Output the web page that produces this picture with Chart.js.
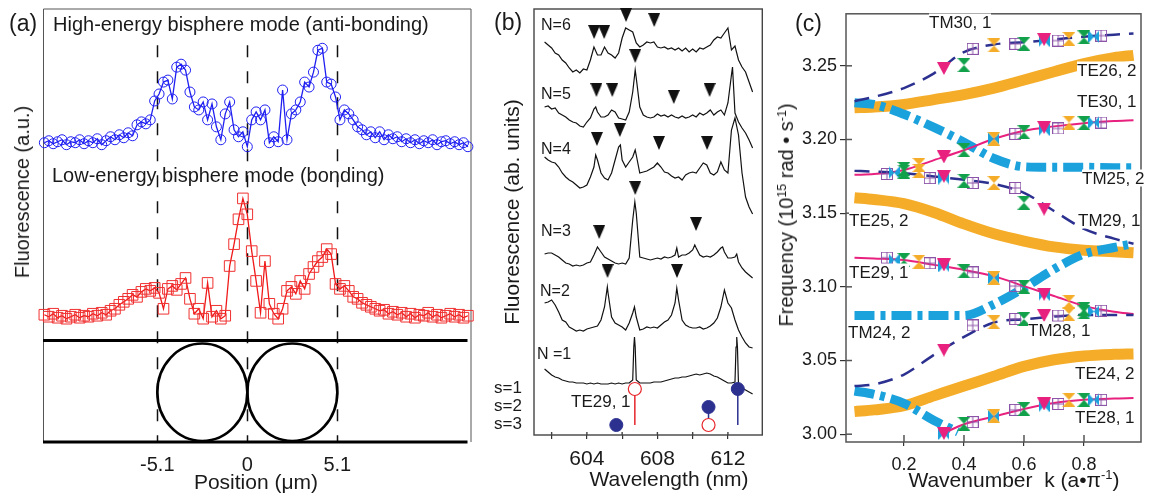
<!DOCTYPE html>
<html>
<head>
<meta charset="utf-8">
<script src="https://cdn.jsdelivr.net/npm/chart.js@4.4.1/dist/chart.umd.min.js"></script>
<style>
  body { margin: 0; background: #fff; }
  #fig { position: relative; width: 1151px; height: 494px; overflow: hidden;
         font-family: 'Liberation Sans', Arial, Helvetica, sans-serif; color: #1a1a1a; }
  #fig canvas { position: absolute; top: 0; }
  .lbl { position: absolute; white-space: nowrap; line-height: 1; transform: translateY(-50%); }
  .lbl.ctr { transform: translate(-50%, -50%); }
  .lbl.rot { transform: translate(-50%, -50%) rotate(-90deg); }
  .lbl.bg { background: #fff; }
  sup { font-size: 62%; vertical-align: 0.55em; line-height: 0; }
</style>
</head>
<body>
<div id="fig">
  <canvas id="chartA" width="480" height="494" style="left:0"></canvas>
  <canvas id="chartB" width="290" height="494" style="left:480px"></canvas>
  <canvas id="chartC" width="381" height="494" style="left:770px"></canvas>
</div>
<script>
// ---------- panel (a): fluorescence line scans ----------
const positions = [-11.5,-11.25,-11,-10.75,-10.5,-10.25,-10,-9.75,-9.5,-9.25,-9,-8.75,-8.5,-8.25,-8,-7.75,-7.5,-7.25,-7,-6.75,
  -6.5,-6.25,-6,-5.75,-5.5,-5.25,-5,-4.75,-4.5,-4.25,-4,-3.75,-3.5,-3.25,-3,-2.75,-2.5,-2.25,-2,-1.75,
  -1.5,-1.25,-1,-0.75,-0.5,-0.25,0,0.25,0.5,0.75,1,1.25,1.5,1.75,2,2.25,2.5,2.75,3,3.25,
  3.5,3.75,4,4.25,4.5,4.75,5,5.25,5.5,5.75,6,6.25,6.5,6.75,7,7.25,7.5,7.75,8,8.25,
  8.5,8.75,9,9.25,9.5,9.75,10,10.25,10.5,10.75,11,11.25,11.5,11.75,12,12.25,12.5];
const blueTrace = [2,4,1,3,5,0,3,2,5,1, 4,2,6,0,4,8,5,10,7,12, 9,20,23,21,25,44,51,63,65,46,
  78,81,75,53,38,35,43,25,41,18, 5,31,43,15,8,13,-2,25,33,25, 35,2,8,3,55,5,31,35,43,63,
  58,73,95,97,63,61,48,25,35,31, 25,18,15,10,13,7,13,5,10,6, 8,3,6,2,5,1,4,2,5,0, 3,4,1,3,0,2,-2];
const redTrace = [4,2,5,1,3,0,2,4,1,3, 2,5,3,6,4,8,10,14,17,20, 24,22,27,30,28,31,26,10,30,33,
  29,35,41,20,5,10,0,36,2,8, 0,3,53,75,100,121,105,68,38,6, 58,15,5,0,10,28,32,25,38,30,
  45,52,58,62,70,65,35,30,33,28, 22,20,16,14,12,10,8,9,5,7, 4,6,2,5,1,4,3,6,2,4, 1,3,5,2,4,1,3];
const blueOffset = 299;
const redOffset = 124;
const posTicks = [-5.1, 0, 5.1];
const sphereCenters = [-2.55, 2.55];
const sphereDiameter = 5.1;

// ---------- panel (b): spectra ----------
const wavelengths = [601.6,601.8,602.0,602.2,602.4,602.6,602.8,603.0,603.2,603.4,
  603.6,603.8,604.0,604.2,604.4,604.6,604.8,605.0,605.2,605.4,
  605.6,605.8,606.0,606.2,606.4,606.6,606.8,607.0,607.2,607.4,
  607.6,607.8,608.0,608.2,608.4,608.6,608.8,609.0,609.2,609.4,
  609.6,609.8,610.0,610.2,610.4,610.6,610.8,611.0,611.2,611.4,
  611.6,611.8,612.0,612.2,612.4,612.6,612.8,613.0,613.2,613.4];
const specN6 = [393,390,387,382,380,375,372,367,363,365, 362,366,365,375,388,380,380,388,382,380,
  377,382,397,407,405,403,392,388,390,393, 392,393,388,387,388,386,387,385,387,384,
  387,383,386,383,387,386,388,390,395,398, 397,402,407,385,389,375,368,363,353,343];
const specN5 = [328,329,326,327,322,320,318,315,313,312, 309,308,313,317,326,323,318,318,320,325,
  323,317,316,315,323,343,357,328,320,318, 317,318,321,319,320,318,320,318,317,319,
  317,318,320,318,322,320,322,325,320,323, 325,320,332,360,322,313,307,302,295,287];
const specN4 = [278,275,273,272,268,262,258,255,253,250, 247,248,250,258,268,275,262,257,255,262,
  275,288,275,268,273,278,280,262,263,264, 266,268,272,268,263,262,259,257,258,255,
  260,262,263,262,267,272,270,262,260,263, 273,265,262,305,317,300,262,238,228,221];
const specN3 = [181,182,182,180,178,175,172,171,169,170, 169,170,172,173,180,188,183,178,176,174,
  172,171,172,171,177,215,222,178,177,176, 175,176,177,176,178,177,178,180,178,180,
  180,182,185,187,180,178,179,178,180,183, 187,183,177,177,178,173,167,163,160,157];
const specN2 = [132,133,135,130,123,115,113,108,106,104, 105,104,106,107,108,109,115,128,142,118,
  112,110,108,105,112,122,118,105,106,108, 107,108,107,110,113,115,120,132,135,115,
  110,108,107,107,108,106,107,109,112,117, 128,145,132,127,115,105,98,92,88,87];
const specN1 = [66,63,60,58,57,55,54,53,53,52, 52,52,51,52,51,52,51,51,51,52,
  51,52,51,52,52,55,55,52,52,52, 52,53,53,53,54,55,56,57,57,58,
  58,59,60,61,60,61,62,61,59,58, 56,54,52,52,53,50,47,45,43,41];
const peaksN5 = [[604.5, 328], [606.74, 365], [612.26, 368]];
const peaksN4 = [[604.5, 280], [605.9, 290], [606.74, 285]];
const peaksN3 = [[606.72, 233], [609.1, 187], [610.12, 190], [611.7, 188], [612.5, 181]];
const peaksN2 = [[605.16, 148], [606.7, 128], [609.1, 147]];
const peaksN1 = [[606.66, 88], [606.7, 98], [606.74, 88], [612.46, 88], [612.5, 98], [612.54, 88]];
const arrowsN6 = [[604.41, 403], [604.98, 403], [606.22, 420], [607.82, 415]];
const arrowsN5 = [[604.54, 345], [605.44, 345], [606.74, 379], [608.93, 338], [610.96, 345]];
const arrowsN4 = [[604.57, 296], [605.87, 305], [608.09, 292], [610.82, 292]];
const arrowsN3 = [[604.70, 203], [606.74, 247], [610.19, 211]];
const arrowsN2 = [[605.17, 164], [609.11, 164]];
const teModeWl = [606.72, 610.9];
const teModeS = [1, 3];
const tmModeWl = [612.56, 610.9, 605.67];
const tmModeS = [1, 2, 3];
const sLevels = [46, 28, 10];
const wlTicks = [602, 604, 606, 608, 610, 612];
const wlLabelled = [604, 608, 612];

// ---------- panel (c): dispersion ----------
const kGrid = [0.035, 0.1, 0.2, 0.3, 0.4, 0.5, 0.6, 0.7, 0.8, 0.9, 0.965];
const te26_2 = [3.2215,3.2220,3.2238,3.2271,3.2305,3.2349,3.2404,3.2460,3.2515,3.2555,3.2571];
const te25_2 = [3.1605,3.1593,3.1565,3.1505,3.1427,3.1360,3.1311,3.1271,3.1249,3.1238,3.1231];
const te24_2 = [3.0153,3.0165,3.0193,3.0260,3.0327,3.0393,3.0460,3.0505,3.0531,3.0542,3.0545];
const tm25_2 = [3.2249,3.2238,3.2171,3.2082,3.1982,3.1871,3.1815,3.1811,3.1811,3.1809,3.1809];
const tm24_2 = [3.0805,3.0805,3.0805,3.0805,3.0805,3.0882,3.0993,3.1120,3.1222,3.1267,3.1293];
const te30_1 = [3.1760,3.1765,3.1793,3.1860,3.1927,3.2005,3.2060,3.2089,3.2111,3.2125,3.2131];
const te29_1 = [3.1198,3.1193,3.1182,3.1149,3.1115,3.1071,3.1005,3.0938,3.0871,3.0831,3.0815];
const tm30_1 = [3.2260,3.2289,3.2349,3.2449,3.2593,3.2645,3.2660,3.2678,3.2698,3.2711,3.2720];
const tm29_1 = [3.1787,3.1782,3.1771,3.1749,3.1727,3.1698,3.1638,3.1515,3.1393,3.1327,3.1293];
const tm28_1 = [3.0327,3.0338,3.0405,3.0539,3.0660,3.0758,3.0780,3.0798,3.0809,3.0809,3.0809];
const kLowBranch = [0.035, 0.1, 0.2, 0.3, 0.38];
const tmLowBranch = [3.0293, 3.0271, 3.0209, 3.0093, 3.0015];
const kTe28 = [0.33, 0.4, 0.5, 0.6, 0.7, 0.8, 0.9, 0.965];
const te28_1 = [3.0005, 3.0067, 3.0120, 3.0171, 3.0211, 3.0233, 3.0242, 3.0245];
const marksN3 = [[0.333,3.2482],[0.667,3.2678],[0.333,3.1882],[0.667,3.2082],[0.333,3.1750],[0.667,3.1527],
  [0.333,3.1149],[0.667,3.0949],[0.333,3.0571],[0.667,3.0805],[0.333,3.0005],[0.667,3.0205]];
const marksN5 = [[0.4,3.2505],[0.6,3.2649],[0.8,3.2693],[0.2,3.1800],[0.4,3.1927],[0.6,3.2049],[0.8,3.2111],
  [0.2,3.1782],[0.4,3.1720],[0.6,3.1571],[0.2,3.1182],[0.4,3.1105],[0.6,3.1000],[0.8,3.0849],
  [0.6,3.0782],[0.8,3.0827],[0.4,3.0071],[0.6,3.0171],[0.8,3.0233]];
const marksN4 = [[0.5,3.2638],[0.75,3.2682],[0.25,3.1827],[0.5,3.2005],[0.75,3.2115],[0.25,3.1787],[0.5,3.1705],
  [0.25,3.1171],[0.5,3.1060],[0.75,3.0898],[0.5,3.0760],[0.75,3.0815],[0.5,3.0122],[0.75,3.0233]];
const marksN6 = [[0.667,3.2671],[0.833,3.2698],[0.167,3.1775],[0.5,3.2005],[0.667,3.2067],[0.833,3.2115],
  [0.333,3.1738],[0.167,3.1182],[0.333,3.1142],[0.5,3.1060],[0.667,3.0949],[0.833,3.0833],
  [0.333,3.0005],[0.5,3.0122],[0.667,3.0193],[0.833,3.0233]];
const marksN7 = [[0.429,3.2615],[0.571,3.2649],[0.714,3.2671],[0.857,3.2705],[0.143,3.1766],[0.571,3.2038],
  [0.714,3.2075],[0.857,3.2115],[0.286,3.1738],[0.429,3.1705],[0.571,3.1671],[0.143,3.1198],[0.286,3.1160],
  [0.429,3.1098],[0.571,3.1005],[0.429,3.0738],[0.571,3.0782],[0.714,3.0805],[0.857,3.0838],
  [0.429,3.0082],[0.571,3.0165],[0.714,3.0205],[0.857,3.0233]];
const kTicks = [0.2, 0.4, 0.6, 0.8];
const freqTicks = [3.00, 3.05, 3.10, 3.15, 3.20, 3.25];

// ---------- helpers ----------
Chart.defaults.font.family = "'Liberation Sans', Arial, Helvetica, sans-serif";
Chart.defaults.color = '#1a1a1a';

const pts = (xs, ys) => xs.map((x, i) => ({ x, y: ys[i] }));
const pairs = list => list.map(([x, y]) => ({ x, y }));
const spectrum = (values, peaks) => pts(wavelengths, values).concat(pairs(peaks)).sort((a, b) => a.x - b.x);

function glyph(w, h, draw) {
  const c = document.createElement('canvas');
  c.width = w; c.height = h;
  draw(c.getContext('2d'), w, h);
  return c;
}
const triDown = (color, w, h) => glyph(w, h, (g) => {
  g.fillStyle = color; g.beginPath(); g.moveTo(0, 0); g.lineTo(w, 0); g.lineTo(w / 2, h); g.closePath(); g.fill();
});
const hourglass = (color, w, h) => glyph(w, h, (g) => {
  g.fillStyle = color; g.beginPath(); g.moveTo(0, 0); g.lineTo(w, 0); g.lineTo(0, h); g.lineTo(w, h); g.closePath(); g.fill();
});
const bowtie = (color, w, h) => glyph(w, h, (g) => {
  g.fillStyle = color; g.beginPath(); g.moveTo(0, 0); g.lineTo(w, h); g.lineTo(w, 0); g.lineTo(0, h); g.closePath(); g.fill();
});
const boxPlus = (color, w, h) => glyph(w, h, (g) => {
  g.strokeStyle = color; g.lineWidth = 1;
  g.strokeRect(0.5, 0.5, w - 1, h - 1);
  g.beginPath(); g.moveTo(w / 2, 0); g.lineTo(w / 2, h); g.moveTo(0, h / 2); g.lineTo(w, h / 2); g.stroke();
});

const framePlugin = {
  id: 'frame',
  beforeDatasetsDraw(chart, args, opts) {
    const { ctx, chartArea: a } = chart;
    ctx.save();
    ctx.strokeStyle = opts.color;
    ctx.lineWidth = opts.width;
    ctx.strokeRect(a.left, a.top, a.right - a.left, a.bottom - a.top);
    (opts.inner || []).forEach(({ axis, len }) => {
      const s = chart.scales[axis];
      s.ticks.forEach(t => {
        const p = s.getPixelForValue(t.value);
        ctx.beginPath();
        if (s.isHorizontal()) { ctx.moveTo(p, a.bottom); ctx.lineTo(p, a.bottom - len); }
        else { ctx.moveTo(a.left, p); ctx.lineTo(a.left + len, p); }
        ctx.stroke();
      });
    });
    ctx.restore();
  }
};

// layout of the schematic strip in panel (a), in the panel's own y units
const strip = { dashTop: 399, top: 102, mid: 50, half: 49 };

const bispherePlugin = {
  id: 'bisphere',
  beforeDatasetsDraw(chart) {
    const { ctx, chartArea: a, scales: { x, y } } = chart;
    ctx.save();
    ctx.strokeStyle = '#555'; ctx.lineWidth = 1;
    ctx.beginPath();
    ctx.moveTo(a.left + 0.5, a.bottom); ctx.lineTo(a.left + 0.5, a.top + 0.5);
    ctx.lineTo(a.right - 0.5, a.top + 0.5); ctx.lineTo(a.right - 0.5, a.bottom);
    ctx.stroke();
    ctx.strokeStyle = '#111'; ctx.lineWidth = 1.5; ctx.setLineDash([12, 14]);
    posTicks.forEach(p => {
      const px = Math.round(x.getPixelForValue(p)) + 0.5;
      ctx.beginPath(); ctx.moveTo(px, y.getPixelForValue(strip.dashTop)); ctx.lineTo(px, y.getPixelForValue(0)); ctx.stroke();
    });
    ctx.setLineDash([]);
    ctx.strokeStyle = '#000'; ctx.lineWidth = 3;
    [0, strip.top].forEach(v => {
      const py = y.getPixelForValue(v);
      ctx.beginPath(); ctx.moveTo(a.left, py); ctx.lineTo(a.right - 4, py); ctx.stroke();
    });
    ctx.lineWidth = 2.6;
    sphereCenters.forEach(c => {
      const cx = x.getPixelForValue(c);
      const rx = x.getPixelForValue(c + sphereDiameter / 2) - cx;
      const cy = y.getPixelForValue(strip.mid);
      const ry = cy - y.getPixelForValue(strip.mid + strip.half);
      ctx.beginPath(); ctx.ellipse(cx, cy, rx, ry, 0, 0, 2 * Math.PI); ctx.stroke();
    });
    ctx.restore();
  }
};

const noAxis = (w) => ({ afterFit: s => { s.width = w; }, ticks: { display: false }, grid: { display: false }, border: { display: false } });

// ---------- chart (a) ----------
new Chart(document.getElementById('chartA'), {
  type: 'scatter',
  data: {
    datasets: [
      { data: pts(positions, blueTrace.map(v => v + blueOffset)), showLine: true, clip: false,
        borderColor: '#1f1ff2', borderWidth: 1.3, pointStyle: 'circle', pointRadius: 5,
        pointBorderWidth: 1, pointBorderColor: '#1f1ff2', pointBackgroundColor: 'rgba(0,0,0,0)' },
      { data: pts(positions, redTrace.map(v => v + redOffset)), showLine: true, clip: false,
        borderColor: '#f01818', borderWidth: 1.3, pointStyle: 'rect', pointRadius: 7.5,
        pointBorderWidth: 1, pointBorderColor: '#f03030', pointBackgroundColor: 'rgba(0,0,0,0)' }
    ]
  },
  options: {
    animation: false, responsive: false, devicePixelRatio: 1, events: [],
    layout: { padding: { top: 6, right: 6 } },
    plugins: { legend: { display: false }, tooltip: { enabled: false } },
    scales: {
      x: { type: 'linear', min: -11.577, max: 12.704,
           afterBuildTicks: s => { s.ticks = posTicks.map(v => ({ value: v })); },
           afterFit: s => { s.height = 52; },
           ticks: { callback: v => String(v), font: { size: 20 }, padding: 11, maxRotation: 0, autoSkip: false },
           grid: { display: false, drawTicks: false }, border: { display: false } },
      y: Object.assign({ min: 0, max: 436 }, noAxis(43))
    }
  },
  plugins: [bispherePlugin]
});

// ---------- chart (b) ----------
const black = '#111';
const red = '#e8262b';
const navy = '#2c3190';
const traceSet = (values, peaks) => ({ data: spectrum(values, peaks), showLine: true, pointRadius: 0,
  borderColor: black, borderWidth: 1.2, order: 3 });
const stemSets = [];
teModeWl.forEach((wl, i) => stemSets.push({ data: [{ x: wl, y: sLevels[teModeS[i] - 1] }, { x: wl, y: sLevels[2] }],
  showLine: true, pointRadius: 0, borderColor: red, borderWidth: 1.5, order: 2 }));
tmModeWl.forEach((wl, i) => stemSets.push({ data: [{ x: wl, y: sLevels[tmModeS[i] - 1] }, { x: wl, y: sLevels[2] }],
  showLine: true, pointRadius: 0, borderColor: navy, borderWidth: 1.5, order: 2 }));

new Chart(document.getElementById('chartB'), {
  type: 'scatter',
  data: {
    datasets: [
      traceSet(specN6, []), traceSet(specN5, peaksN5), traceSet(specN4, peaksN4),
      traceSet(specN3, peaksN3), traceSet(specN2, peaksN2), traceSet(specN1, peaksN1),
      { data: pairs([...arrowsN6, ...arrowsN5, ...arrowsN4, ...arrowsN3, ...arrowsN2]), clip: false,
        pointStyle: triDown('#111', 12, 14), pointRadius: 6, order: 0 },
      ...stemSets,
      { data: teModeWl.map((wl, i) => ({ x: wl, y: sLevels[teModeS[i] - 1] })), pointStyle: 'circle', pointRadius: 6.5,
        pointBorderColor: red, pointBackgroundColor: '#fff', pointBorderWidth: 1.2, order: 0, clip: false },
      { data: tmModeWl.map((wl, i) => ({ x: wl, y: sLevels[tmModeS[i] - 1] })), pointStyle: 'circle', pointRadius: 6.5,
        pointBorderColor: navy, pointBackgroundColor: navy, pointBorderWidth: 1, order: 0, clip: false }
    ]
  },
  options: {
    animation: false, responsive: false, devicePixelRatio: 1, events: [],
    layout: { padding: { top: 9, right: 3 } },
    plugins: { legend: { display: false }, tooltip: { enabled: false },
               frame: { color: '#444', width: 1.4, inner: [{ axis: 'x', len: 3 }] } },
    scales: {
      x: { type: 'linear', min: 601, max: 613.95,
           afterBuildTicks: s => { s.ticks = wlTicks.map(v => ({ value: v })); },
           afterFit: s => { s.height = 59; },
           ticks: { callback: v => wlLabelled.includes(v) ? String(v) : '', font: { size: 21 }, padding: 8, maxRotation: 0, autoSkip: false },
           grid: { drawOnChartArea: false, tickLength: 4, color: '#333', lineWidth: 1.2 }, border: { display: false } },
      y: Object.assign({ min: 0, max: 426 }, noAxis(54))
    }
  },
  plugins: [framePlugin]
});

// ---------- chart (c) ----------
const orange = '#f5ad29';
const cyan = '#1ba1dc';
const pink = '#e8217f';
const green = '#12a14b';
const purple = '#8c54a8';
const curve = (xs, ys, color, width, dash, order) => ({ data: pts(xs, ys), showLine: true, pointRadius: 0,
  borderColor: color, borderWidth: width, borderDash: dash, cubicInterpolationMode: 'monotone', order });
const marks = (list, style) => ({ data: pairs(list), pointStyle: style, pointRadius: 6, order: 0, clip: false });

new Chart(document.getElementById('chartC'), {
  type: 'scatter',
  data: {
    datasets: [
      curve(kGrid, te26_2, orange, 11, [], 5), curve(kGrid, te25_2, orange, 11, [], 5), curve(kGrid, te24_2, orange, 11, [], 5),
      curve(kGrid, tm25_2, cyan, 9, [20, 6, 5, 6], 4), curve(kGrid, tm24_2, cyan, 9, [20, 6, 5, 6], 4),
      curve(kLowBranch, tmLowBranch, cyan, 9, [20, 6, 5, 6], 4),
      curve(kGrid, te30_1, pink, 2, [], 3), curve(kGrid, te29_1, pink, 2, [], 3), curve(kTe28, te28_1, pink, 2, [], 3),
      curve(kGrid, tm30_1, navy, 2.5, [15, 9], 2), curve(kGrid, tm29_1, navy, 2.5, [15, 9], 2), curve(kGrid, tm28_1, navy, 2.5, [15, 9], 2),
      marks(marksN3, triDown(pink, 14, 13)),
      marks(marksN5, hourglass(green, 13, 14)),
      marks(marksN4, hourglass(orange, 13, 14)),
      marks(marksN6, bowtie(cyan, 11, 13)),
      marks(marksN7, boxPlus(purple, 12, 12))
    ]
  },
  options: {
    animation: false, responsive: false, devicePixelRatio: 1, events: [],
    layout: { padding: { top: 6, right: 10 } },
    plugins: { legend: { display: false }, tooltip: { enabled: false },
               frame: { color: '#555', width: 1.5, inner: [{ axis: 'x', len: 7 }, { axis: 'y', len: 6 }] } },
    scales: {
      x: { type: 'linear', min: 0.0067, max: 0.99,
           afterBuildTicks: s => { s.ticks = kTicks.map(v => ({ value: v })); },
           afterFit: s => { s.height = 52; },
           ticks: { callback: v => v.toFixed(1), font: { size: 18 }, padding: 8, maxRotation: 0, autoSkip: false },
           grid: { drawOnChartArea: false, tickLength: 4, color: '#333', lineWidth: 1.2 }, border: { display: false } },
      y: { min: 2.9947, max: 3.2853,
           afterBuildTicks: s => { s.ticks = freqTicks.map(v => ({ value: v })); },
           afterFit: s => { s.width = 76; },
           ticks: { callback: v => v.toFixed(2), font: { size: 18 }, padding: 3 },
           grid: { drawOnChartArea: false, tickLength: 6, color: '#333', lineWidth: 1.2 }, border: { display: false } }
    }
  },
  plugins: [framePlugin]
});

// ---------- text annotations ----------
const fig = document.getElementById('fig');
const texts = [
  // [html, x, y, size, classes]
  ['(a)', 9, 23, 23, ''],
  ['High-energy bisphere mode (anti-bonding)', 53, 23.5, 20, ''],
  ['Low-energy bisphere mode (bonding)', 52, 175, 20, ''],
  ['Fluorescence (a.u.)', 22, 192, 20, 'rot'],
  ['Position (&mu;m)', 256, 481, 21, 'ctr'],
  ['(b)', 494, 22, 23, ''],
  ['N=6', 541, 25, 16, ''], ['N=5', 541, 94, 16, ''], ['N=4', 541, 149, 16, ''],
  ['N=3', 541, 231, 16, ''], ['N=2', 540, 291, 16, ''], ['N =1', 537, 354, 16, ''],
  ['s=1', 494, 387, 17, ''], ['s=2', 494, 405, 17, ''], ['s=3', 494, 423, 17, ''],
  ['TE29, 1', 571, 401, 17, ''],
  ['Fluorescence (ab. units)', 511, 212, 21, 'rot'],
  ['Wavelength (nm)', 669, 478, 21, 'ctr'],
  ['(c)', 795, 23, 23, ''],
  ['TM30, 1', 929, 22, 17, 'bg'], ['TE26, 2', 1077, 70, 17, 'bg'], ['TE30, 1', 1077, 101, 17, 'bg'],
  ['TM25, 2', 1082, 178, 17, 'bg'], ['TE25, 2', 849, 220, 17, 'bg'], ['TM29, 1', 1078, 220, 17, 'bg'],
  ['TE29, 1', 849, 272, 17, 'bg'], ['TM24, 2', 848, 332, 17, 'bg'], ['TM28, 1', 1028, 330, 17, 'bg'],
  ['TE24, 2', 1075, 373, 17, 'bg'], ['TE28, 1', 1075, 417, 17, 'bg'],
  ['Frequency (10<sup>15</sup> rad &bull; s<sup>-1</sup>)', 786, 215, 20, 'rot'],
  ['Wavenumber&nbsp; k (a&bull;&pi;<sup>-1</sup>)', 1014, 479, 21, 'ctr']
];
texts.forEach(([html, x, y, size, cls]) => {
  const d = document.createElement('div');
  d.className = 'lbl ' + cls;
  d.innerHTML = html;
  d.style.left = x + 'px';
  d.style.top = y + 'px';
  d.style.fontSize = size + 'px';
  fig.appendChild(d);
});
</script>
</body>
</html>
